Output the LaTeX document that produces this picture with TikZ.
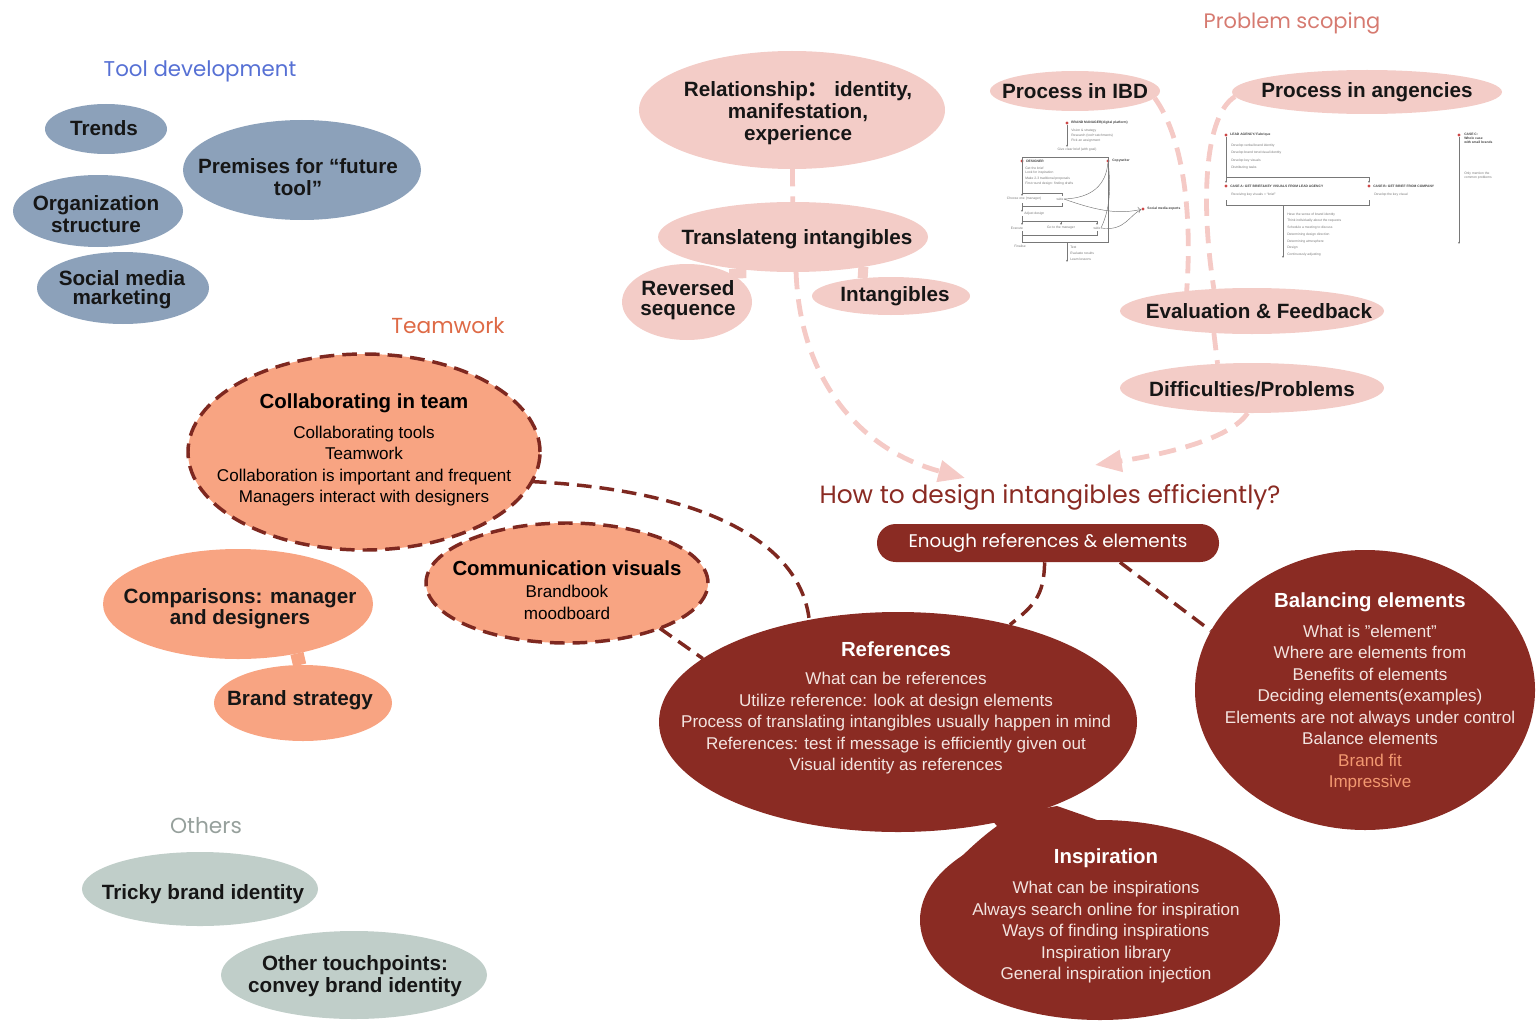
\documentclass[tikz,border=0pt]{standalone}
\usepackage{fontspec}
\setmainfont{Liberation Sans}
\newfontfamily\headfont{Poppins}
\newfontfamily\cjkfont{Noto Sans CJK SC}
\usetikzlibrary{shapes.geometric,arrows.meta,backgrounds}

\definecolor{toolblue}{RGB}{86,112,212}
\definecolor{bluebub}{RGB}{140,161,186}
\definecolor{teamorange}{RGB}{222,106,70}
\definecolor{salmon}{RGB}{248,164,130}
\definecolor{dashred}{RGB}{126,40,32}
\definecolor{pinkbub}{RGB}{243,204,199}
\definecolor{pinkdash}{RGB}{245,202,198}
\definecolor{scopepink}{RGB}{214,122,112}
\definecolor{darkred}{RGB}{138,43,35}
\definecolor{othergray}{RGB}{150,160,156}
\definecolor{greenbub}{RGB}{192,206,201}
\definecolor{lighttext}{RGB}{243,228,224}
\definecolor{fitorange}{RGB}{242,152,112}
\definecolor{flowgray}{RGB}{120,120,120}
\definecolor{flowred}{RGB}{205,70,70}
\definecolor{inktext}{RGB}{22,22,22}

\newcommand{\bubtitle}{\bfseries\fontsize{15.3}{16}\selectfont}

\tikzset{
  bubsize/.style 2 args={minimum width=#1*0.75pt, minimum height=#2*0.75pt},
  bub/.style={ellipse, inner sep=0pt, outer sep=0pt},
  boldtxt/.style={align=center, inner sep=0pt, text=inktext, font=\bfseries\fontsize{15.5}{16}\selectfont},
  listtxt/.style={align=center, inner sep=0pt, font=\fontsize{12.8}{16.1}\selectfont},
  head/.style={inner sep=0pt, font=\headfont\fontsize{16.3}{20}\selectfont},
  stem/.style={line width=#1, line cap=butt},
  pinkline/.style={draw=pinkdash, line width=3.6pt, dash pattern=on 13pt off 7.5pt},
  redline/.style={draw=dashred, line width=2.6pt, dash pattern=on 11pt off 6pt},
  redborder/.style={draw=dashred, line width=2.6pt, dash pattern=on 11pt off 6pt},
  bigtip/.style={-{Triangle[length=20pt,width=16pt]}},
  flow/.style={draw=flowgray, line width=0.35pt},
  flowtip/.style={flow, -{Stealth[length=1.6pt,width=1.4pt]}},
  tiny/.style={inner sep=0pt, anchor=west, text=flowgray, font=\fontsize{2.5}{3}\selectfont},
  tinyb/.style={tiny, text=black!75, font=\bfseries\fontsize{2.5}{3}\selectfont},
  dotr/.style={circle, fill=flowred, inner sep=0pt, minimum size=2.4pt}
}

\begin{document}
\begin{tikzpicture}[x=0.75pt,y=0.75pt,yscale=-1,xscale=1]
\useasboundingbox (0,0) rectangle (1537,1020);

% group titles
\node[head, text=toolblue, font=\headfont\fontsize{16}{20}\selectfont] (tooldev) at (200,71) {Tool development};
\node[head, text=scopepink, font=\headfont\fontsize{15.7}{20}\selectfont] (scoping) at (1292,23) {Problem scoping};
\node[head, text=teamorange] (teamwork) at (448,326) {Teamwork};
\node[head, text=othergray] (others) at (206,826) {Others};
\node[head, text=darkred, font=\headfont\fontsize{18.7}{22}\selectfont] (howto) at (1050,497) {How to design intangibles efficiently?};

% tool development
\node[bub, fill=bluebub, bubsize={122}{50}] (trends) at (106,129) {};
\node[boldtxt] (trends-t) at (104,128) {Trends};
\node[bub, fill=bluebub, bubsize={238}{100}] (premises) at (302,170) {};
\node[boldtxt] (premises-t) at (298,177) {Premises for “future\\tool”};
\node[bub, fill=bluebub, bubsize={170}{72}] (org) at (98,211) {};
\node[boldtxt] (org-t) at (96,214) {Organization\\structure};
\node[bub, fill=bluebub, bubsize={172}{72}] (social) at (123,288) {};
\node[boldtxt, font=\bfseries\fontsize{15.5}{14}\selectfont] (social-t) at (122,290) {Social media\\marketing};

% intangibles
\node[bub, fill=pinkbub, bubsize={306}{118}] (rel) at (792,110) {};
\node[boldtxt, font=\bfseries\fontsize{15.5}{16.5}\selectfont] (rel-t) at (798,113) {Relationship{\cjkfont ：} identity,\\manifestation,\\experience};
\node[bub, fill=pinkbub, bubsize={270}{70}] (trans) at (793,237) {};
\node[boldtxt] (trans-t) at (797,239) {Translateng intangibles};
\node[bub, fill=pinkbub, bubsize={130}{76}] (rev) at (687,302) {};
\node[boldtxt, font=\bfseries\fontsize{15.5}{15}\selectfont] (rev-t) at (688,300) {Reversed\\sequence};
\node[bub, fill=pinkbub, bubsize={158}{38}] (int) at (891,296) {};
\node[boldtxt] (int-t) at (895,296) {Intangibles};

% problem scoping
\node[bub, fill=pinkbub, bubsize={170}{40}] (ibd) at (1075,91) {};
\node[boldtxt] (ibd-t) at (1075,91) {Process in IBD};
\node[bub, fill=pinkbub, bubsize={270}{44}] (ang) at (1367,92) {};
\node[boldtxt] (ang-t) at (1367,92) {Process in angencies};
\node[bub, fill=pinkbub, bubsize={264}{46}] (eval) at (1252,311) {};
\node[boldtxt] (eval-t) at (1259,311) {Evaluation \& Feedback};
\node[bub, fill=pinkbub, bubsize={264}{50}] (diff) at (1252,388) {};
\node[boldtxt] (diff-t) at (1252,389) {Difficulties/Problems};

% teamwork
\node[bub, fill=salmon, redborder, bubsize={352}{196}] (collab) at (364,452) {};
\node[listtxt] (collab-t) at (364,450) {{\bubtitle Collaborating in team}\\[6.5pt]Collaborating tools\\Teamwork\\Collaboration is important and frequent\\Managers interact with designers};
\node[bub, fill=salmon, bubsize={270}{110}] (comp) at (238,604) {};
\node[boldtxt] (comp-t) at (240,609) {Comparisons: manager\\and designers};
\node[bub, fill=salmon, bubsize={178}{76}] (brand) at (303,703) {};
\node[boldtxt] (brand-t) at (300,700) {Brand strategy};
\node[bub, fill=salmon, redborder, bubsize={282}{120}] (comm) at (567,583) {};
\node[listtxt] (comm-t) at (567,590) {{\bubtitle Communication visuals}\\[0.5pt]Brandbook\\moodboard};

% main question
\node[rectangle, rounded corners=14pt, fill=darkred, inner sep=0pt, bubsize={342}{38}, text=white, font=\headfont\fontsize{13.7}{16}\selectfont] (enough) at (1048,543) {Enough references \& elements};
\node[bub, fill=darkred, bubsize={478}{220}] (ref) at (898,722) {};
\node[listtxt, text=lighttext] (ref-t) at (896,708) {{\bubtitle\color{white}References}\\[5pt]What can be references\\Utilize reference: look at design elements\\Process of translating intangibles usually happen in mind\\References: test if message is efficiently given out\\Visual identity as references};
\node[bub, fill=darkred, bubsize={360}{200}] (insp) at (1100,920) {};
\node[listtxt, text=lighttext] (insp-t) at (1106,916) {{\bubtitle\color{white}Inspiration}\\[6.4pt]What can be inspirations\\Always search online for inspiration\\Ways of finding inspirations\\Inspiration library\\General inspiration injection};
\node[bub, fill=darkred, bubsize={340}{280}] (bal) at (1365,690) {};
\node[listtxt, text=lighttext] (bal-t) at (1370,692) {{\bubtitle\color{white}Balancing elements}\\[6.4pt]What is "element"\\Where are elements from\\Benefits of elements\\Deciding elements(examples)\\Elements are not always under control\\Balance elements\\{\color{fitorange}Brand fit}\\{\color{fitorange}Impressive}};

% others
\node[bub, fill=greenbub, bubsize={236}{74}] (tricky) at (200,889) {};
\node[boldtxt] (tricky-t) at (203,894) {Tricky brand identity};
\node[bub, fill=greenbub, bubsize={266}{88}] (touch) at (354,975) {};
\node[boldtxt] (touch-t) at (355,976) {Other touchpoints:\\convey brand identity};

\begin{scope}[on background layer]
\draw[stem=13pt, pinkbub] (rev.25) -- (trans.210);
\draw[stem=7.5pt, pinkbub] (trans.-23.5) -- (int.148.6);
\draw[stem=10pt, salmon] (comp.-40) -- (brand.95);
\fill[darkred] (990,818) -- (1057,806) -- (1100,821) -- (1060,870) -- (1000,880) -- (930,890) .. controls (955,862) and (975,842) .. (997,826) -- cycle;
\end{scope}

% connectors
\coordinate (tipL) at (965,478);
\coordinate (tipR) at (1095,465);
\draw[pinkline] (rel) -- (trans);
\draw[pinkline, bigtip] (trans.-85) .. controls (800,380) and (860,450) .. (tipL);
\draw[pinkline] (ibd.-5) .. controls (1185,140) and (1192,220) .. (eval.163);
\draw[pinkline] (ang.182) .. controls (1205,115) and (1200,200) .. (eval.150);
\draw[pinkline] (eval.-150) -- (diff.145);
\draw[pinkline, bigtip] (diff.-100) .. controls (1230,440) and (1160,455) .. (tipR);
\draw[redline] (collab.-10) .. controls (700,490) and (800,540) .. (ref.131);
\draw[redline] (comm.-26) -- (ref.162);
\draw[redline] (enough.-100) .. controls (1044,595) and (1035,605) .. (ref.41);
\draw[redline] (enough.-15) -- (bal.159);

% IBD sketch
\node[dotr] (ibd-mgr) at (1067,123) {};
\node[tinyb] (ibd-mgr-t) at (1071,123) {BRAND MANAGER(digital platform)};
\node[tiny] (ibd-m1) at (1071,131) {Vision \& strategy};
\node[tiny] (ibd-m2) at (1071,136) {Research (tool+catchments)};
\node[tiny] (ibd-m3) at (1071,141) {Pick an assignment};
\node[tiny, anchor=center] (ibd-brief) at (1077,150) {Give clear brief (with goal)};
\node[dotr] (ibd-des) at (1022,161) {};
\node[tinyb] (ibd-des-t) at (1026,161) {DESIGNER};
\node[dotr] (ibd-copy) at (1108,161) {};
\node[tinyb] (ibd-copy-t) at (1112,161) {Copywriter};
\node[tiny] (ibd-d1) at (1025,168) {Get the brief};
\node[tiny] (ibd-d2) at (1025,173) {Look for inspiration};
\node[tiny] (ibd-d3) at (1025,179) {Make 2-3 traditional proposals};
\node[tiny] (ibd-d4) at (1025,184) {First round design: finding drafts};
\node[tiny, anchor=center] (ibd-choose) at (1024,199) {Choose one (manager)};
\node[tiny, anchor=center] (ibd-w1) at (1060,199) {wide};
\node[tiny] (ibd-adj) at (1024,214) {Adjust design};
\node[tiny, anchor=center] (ibd-exec) at (1017,228) {Execute};
\node[tiny, anchor=center] (ibd-go) at (1061,228) {Go to the manager};
\node[tiny, anchor=center] (ibd-w2) at (1097,228) {wide};
\node[tiny, anchor=center] (ibd-fin) at (1020,246) {Finalise};
\node[tiny] (ibd-e1) at (1070,247) {Test};
\node[tiny] (ibd-e2) at (1070,253) {Evaluate results};
\node[tiny] (ibd-e3) at (1070,259) {Learn lessons};
\node[dotr] (ibd-soc) at (1143,209) {};
\node[tinyb] (ibd-soc-t) at (1147,209) {Social media experts};
\draw[flowtip] (1067,125) -- (1067,147);
\draw[flow] (1022,193) -- (1022,157) -- (1108,157) -- (1108,242) -- (1022,242) -- (1022,235);
\draw[flowtip] (1022,193) -- (1022,196);
\draw[flow] (1022,193) -- (1062,193) -- (1062,196);
\draw[flow] (1022,203) -- (1022,206) -- (1062,206) -- (1062,203);
\draw[flowtip] (1022,206) -- (1022,212);
\draw[flow] (1022,216) -- (1022,221) -- (1097,221);
\foreach \fx in {1022,1061,1097} \draw[flowtip] (\fx,221) -- (\fx,225);
\draw[flow] (1022,231) -- (1022,235) -- (1097,235) -- (1097,231);
\draw[flowtip] (1067,242) -- (1067,262);
\draw[flow, ->] (1064,199) .. controls (1100,212) and (1120,214) .. (ibd-soc);
\draw[flow] (ibd-copy) .. controls (1106,185) and (1092,198) .. (1064,199);
\draw[flow] (1101,228) .. controls (1125,232) and (1130,214) .. (ibd-soc);
\draw[flow] (1101,228) .. controls (1112,205) and (1110,180) .. (ibd-copy);

% agency sketch
\node[dotr] (ag-lead) at (1226,135) {};
\node[tinyb] (ag-lead-t) at (1230,135) {LEAD AGENCY/ Fabrique};
\node[tiny] (ag-l1) at (1231,146) {Develop verbal brand identity};
\node[tiny] (ag-l2) at (1231,153) {Develop brand tone/visual identity};
\node[tiny] (ag-l3) at (1231,161) {Develop key visuals};
\node[tiny] (ag-l4) at (1231,168) {Distributing tasks};
\node[dotr] (ag-a) at (1226,186) {};
\node[tinyb] (ag-a-t) at (1230,186) {CASE A: GET BRIEF\&KEY VISUALS FROM LEAD AGENCY};
\node[dotr] (ag-b) at (1369,186) {};
\node[tinyb] (ag-b-t) at (1373,186) {CASE B: GET BRIEF FROM COMPANY};
\node[tiny] (ag-a1) at (1231,195) {Receiving key visuals = “brief”};
\node[tiny] (ag-b1) at (1374,195) {Develop the key visual};
\foreach \ty/\tx [count=\ti] in {215/Have the sense of brand identity/company personality through the key visual,
  221/Think individually about the requests,
  228/Schedule a meeting to discuss,
  235/Determining design direction,
  242/Determining atmosphere/feeling(many stakeholders involve),
  248/Design,
  255/Continuously adjusting}
  \node[tiny] (ag-s\ti) at (1287,\ty) {\tx};
\node[dotr] (ag-c) at (1459,135) {};
\node[tinyb, anchor=north west, align=left] (ag-c-t) at (1464,133) {CASE C:\\Whole case\\with small brands};
\node[tiny, anchor=north west, align=left] (ag-c1) at (1464,172) {Only mention the\\common problems};
\draw[flow] (1226,137) -- (1226,177) -- (1369,177);
\draw[flowtip] (1226,177) -- (1226,183);
\draw[flowtip] (1369,177) -- (1369,183);
\draw[flow] (1226,200) -- (1226,205) -- (1369,205) -- (1369,200);
\draw[flowtip] (1283,205) -- (1283,258);
\draw[flowtip] (1459,137) -- (1459,244);
\end{tikzpicture}
\end{document}
